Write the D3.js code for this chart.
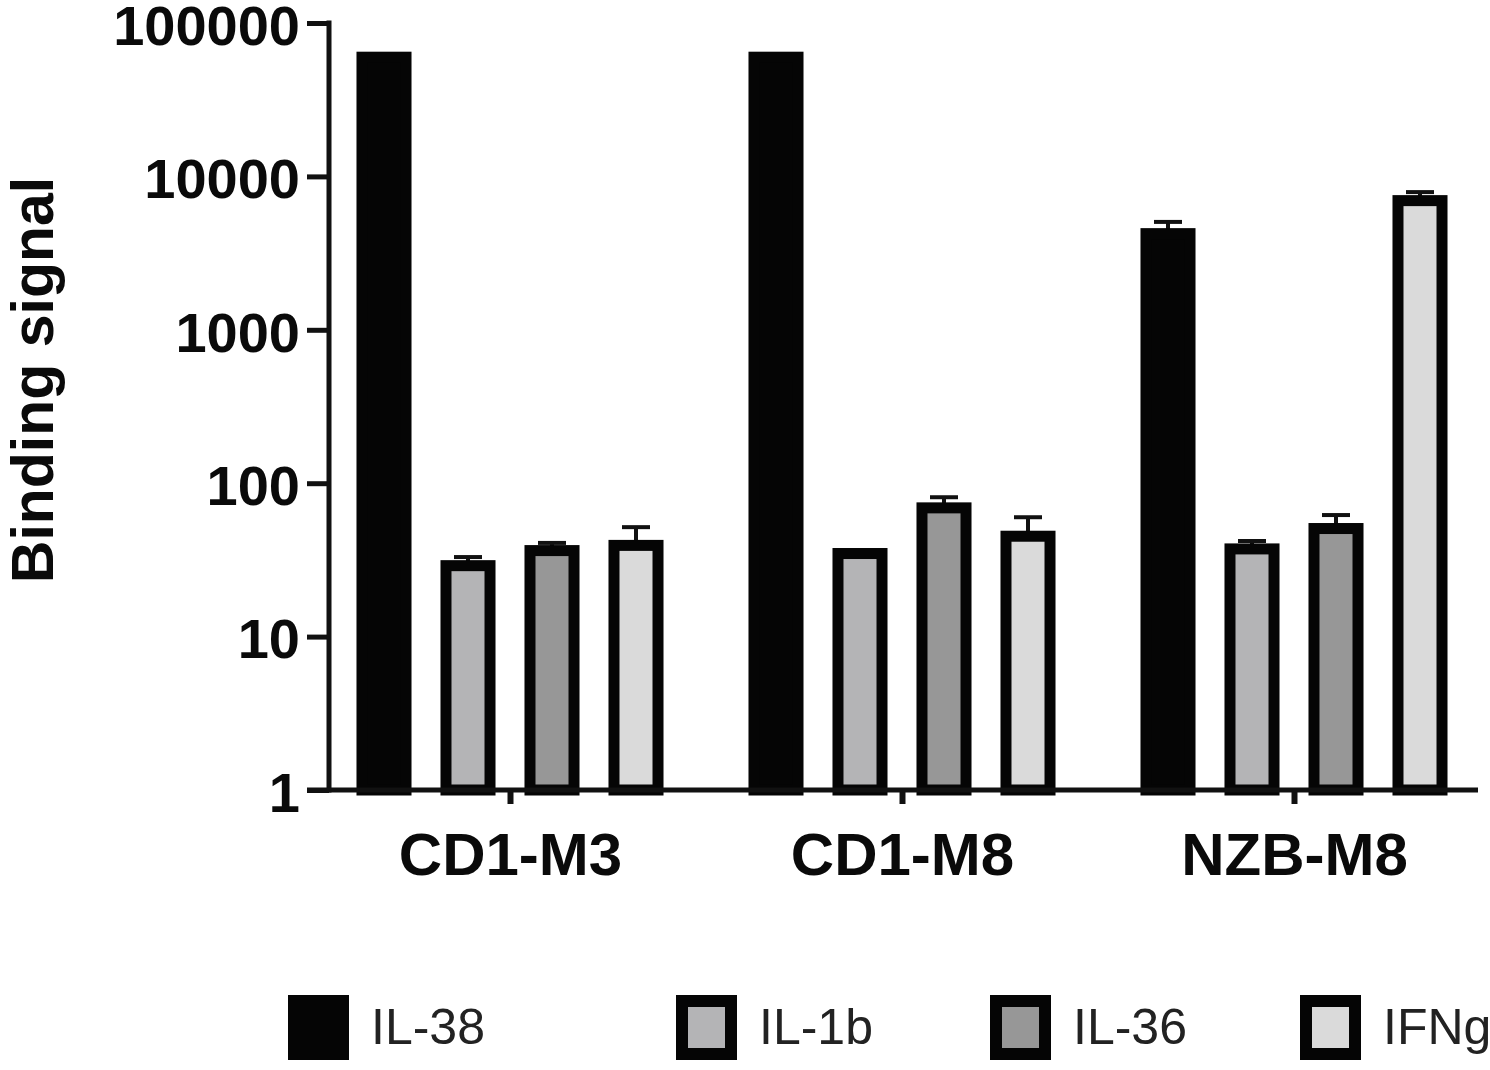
<!DOCTYPE html>
<html>
<head>
<meta charset="utf-8">
<script src="https://cdn.jsdelivr.net/npm/d3@7"></script>
<style>
  html, body { margin: 0; padding: 0; background: #fff; }
  svg { display: block; }
</style>
</head>
<body>
<svg id="chart" width="1490" height="1070"></svg>
<script>
// ---- data ----
const groups = ["CD1-M3", "CD1-M8", "NZB-M8"];
const seriesNames = ["IL-38", "IL-1b", "IL-36", "IFNg"];
const seriesColors = ["#050505", "#b4b4b6", "#979797", "#dadada"];
// mean values per series, one entry per group
const il38  = [65000, 65000, 4600];
const il1b  = [31.5, 37.8, 40.5];
const il36  = [39.5, 75, 55];
const ifng  = [42.7, 49, 7550];
// upper error (SEM) per series, one entry per group
const il38Err = [0, 0, 450];
const il1bErr = [1.5, 0, 1.5];
const il36Err = [1.3, 6, 7];
const ifngErr = [9, 11, 350];
const yTicks = [1, 10, 100, 1000, 10000, 100000];
const yTitle = "Binding signal";

const values = [il38, il1b, il36, ifng];
const errors = [il38Err, il1bErr, il36Err, ifngErr];

// ---- layout ----
const svg = d3.select("#chart");
const axisX = 329, axisBottom = 790, axisTop = 23, axisRight = 1478;

const y = d3.scaleLog().domain([1, 100000]).range([axisBottom, axisTop]);
const x0 = d3.scaleBand().domain(groups).range([314, 1490]).padding(0);
const x1 = d3.scaleBand().domain(seriesNames).range([28, 364])
  .paddingInner(0.345).paddingOuter(0.1725);

const sw = 11;

const barData = [];
groups.forEach((g, gi) => {
  seriesNames.forEach((s, si) => {
    barData.push({ g, s, si, v: values[si][gi], e: errors[si][gi] });
  });
});

// error bars (upper only)
const errG = svg.append("g");
barData.forEach(d => {
  if (d.e <= 0) return;
  const cx = x0(d.g) + x1(d.s) + x1.bandwidth() / 2;
  const yTop = y(d.v + d.e);
  errG.append("line")
    .attr("x1", cx).attr("x2", cx)
    .attr("y1", y(d.v) + 2).attr("y2", yTop)
    .attr("stroke", "#111").attr("stroke-width", 4);
  errG.append("line")
    .attr("x1", cx - 14).attr("x2", cx + 14)
    .attr("y1", yTop).attr("y2", yTop)
    .attr("stroke", "#111").attr("stroke-width", 4);
});

// bars
svg.append("g").selectAll("rect").data(barData).join("rect")
  .attr("x", d => x0(d.g) + x1(d.s) + sw / 2)
  .attr("width", x1.bandwidth() - sw)
  .attr("y", d => y(d.v) + sw / 2)
  .attr("height", d => axisBottom - y(d.v) - sw / 2)
  .attr("fill", d => seriesColors[d.si])
  .attr("stroke", "#050505")
  .attr("stroke-width", sw);

// Y axis
const yAxis = d3.axisLeft(y).tickValues(yTicks).tickFormat(d3.format("d"))
  .tickSize(22).tickPadding(7);
const yg = svg.append("g").attr("transform", `translate(${axisX},0)`).call(yAxis);
yg.select(".domain").remove();
yg.selectAll(".tick line").attr("stroke", "#111").attr("stroke-width", 5);
yg.selectAll(".tick text")
  .attr("font-family", "'Liberation Sans', Arial, sans-serif")
  .attr("font-weight", "bold")
  .attr("font-size", 56)
  .attr("fill", "#0a0a0a")
  .attr("dy", "0.38em");
svg.append("line")
  .attr("x1", axisX).attr("x2", axisX)
  .attr("y1", axisTop - 2.5).attr("y2", axisBottom + 2.5)
  .attr("stroke", "#111").attr("stroke-width", 5);

// X axis
const xAxis = d3.axisBottom(d3.scalePoint().domain(groups)
    .range([x0(groups[0]) + x0.bandwidth() / 2, x0(groups[2]) + x0.bandwidth() / 2]))
  .tickSize(14).tickPadding(28);
const xg = svg.append("g").attr("transform", `translate(0,${axisBottom})`).call(xAxis);
xg.select(".domain").remove();
xg.selectAll(".tick line").attr("stroke", "#111").attr("stroke-width", 6);
xg.selectAll(".tick text")
  .attr("font-family", "'Liberation Sans', Arial, sans-serif")
  .attr("font-weight", "bold")
  .attr("font-size", 60)
  .attr("fill", "#0a0a0a");
svg.append("line")
  .attr("x1", 307).attr("x2", axisRight)
  .attr("y1", axisBottom).attr("y2", axisBottom)
  .attr("stroke", "#111").attr("stroke-width", 5);

// Y title
svg.append("text")
  .attr("transform", "translate(53,380) rotate(-90)")
  .attr("text-anchor", "middle")
  .attr("font-family", "'Liberation Sans', Arial, sans-serif")
  .attr("font-weight", "bold")
  .attr("font-size", 59)
  .attr("fill", "#0a0a0a")
  .text(yTitle);

// Legend
const legendX = [288, 676, 990, 1300];
const lg = svg.append("g");
seriesNames.forEach((s, i) => {
  lg.append("rect")
    .attr("x", legendX[i] + 6).attr("y", 995 + 6)
    .attr("width", 61 - 12).attr("height", 65 - 12)
    .attr("fill", seriesColors[i])
    .attr("stroke", "#050505").attr("stroke-width", 12);
  lg.append("text")
    .attr("x", legendX[i] + 83).attr("y", 1044)
    .attr("font-family", "'Liberation Sans', Arial, sans-serif")
    .attr("font-size", 50)
    .attr("fill", "#222")
    .text(s);
});
</script>
</body>
</html>
